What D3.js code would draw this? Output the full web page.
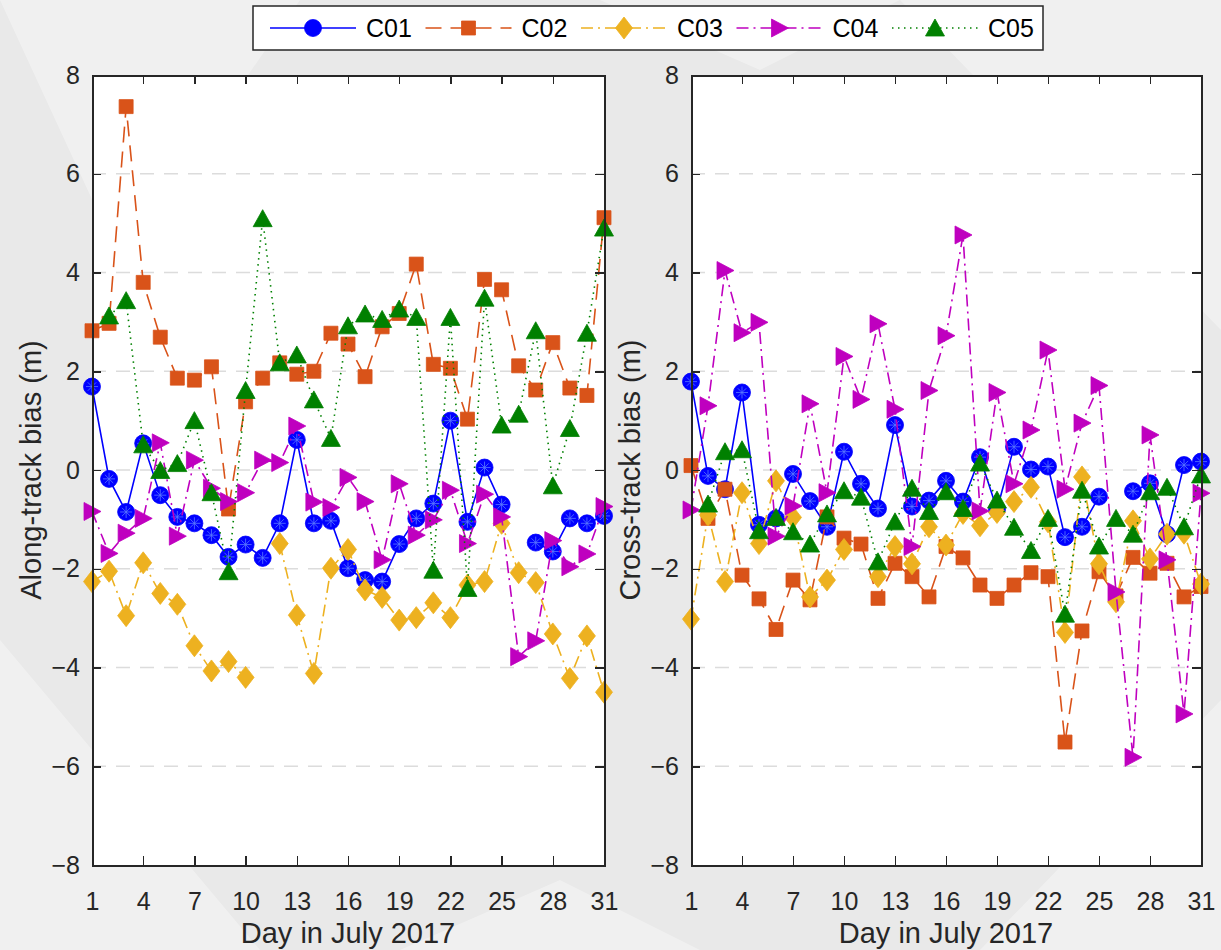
<!DOCTYPE html>
<html lang="en">
<head>
    <meta charset="UTF-8">
    <title>Along-track and cross-track bias</title>
    <script src="https://d3js.org/d3.v7.min.js"></script>
    <style>
        body { margin: 0; background: #ececec; }
        svg { display: block; font-family: "Liberation Sans", Arial, sans-serif; }
        .axis path, .axis line { stroke: #262626; shape-rendering: crispEdges; }
        .axis path { stroke-width: 2; }
        .axis line { stroke-width: 1.5; }
        .axis text { font-size: 25px; fill: #262626; font-family: "Liberation Sans", Arial, sans-serif; }
        .axis-label { font-size: 29px; fill: #262626; }
    </style>
</head>
<body>
<svg width="1221" height="950"></svg>
<script>
    // days and ticks
    const days = d3.range(1, 32);
    const xTicks = [1, 4, 7, 10, 13, 16, 19, 22, 25, 28, 31];
    const yTicks = [-8, -6, -4, -2, 0, 2, 4, 6, 8];
    const seriesNames = ["C01", "C02", "C03", "C04", "C05"];

    // Along-track bias (m), null = no value
    const c01Along = [1.69, -0.18, -0.85, 0.54, -0.51, -0.95, -1.08, -1.32, -1.76, -1.51, -1.78, -1.08, 0.61, -1.08, -1.03, -1.99, -2.23, -2.26, -1.50, -0.98, -0.68, 1.00, -1.05, 0.05, -0.70, null, -1.47, -1.65, -0.98, -1.08, -0.93];
    const c02Along = [2.82, 2.97, 7.36, 3.80, 2.69, 1.86, 1.82, 2.09, -0.79, 1.38, 1.86, 2.17, 1.94, 2.00, 2.77, 2.55, 1.89, 2.90, 3.17, 4.17, 2.14, 2.06, 1.03, 3.86, 3.65, 2.11, 1.62, 2.58, 1.66, 1.51, 5.11];
    const c03Along = [-2.26, -2.05, -2.95, -1.88, -2.50, -2.72, -3.56, -4.07, -3.88, -4.20, null, -1.49, -2.94, -4.12, -1.99, -1.61, -2.43, -2.58, -3.04, -2.99, -2.69, -2.99, -2.33, -2.26, -1.08, -2.08, -2.28, -3.32, -4.22, -3.36, -4.50];
    const c04Along = [-0.84, -1.69, -1.28, -0.98, 0.55, -1.34, 0.20, -0.37, -0.64, -0.46, 0.20, 0.15, 0.89, -0.65, -0.76, -0.15, -0.64, -1.82, -0.28, -1.32, -1.01, -0.41, -1.49, -0.49, -0.95, -3.78, -3.46, -1.43, -1.96, -1.70, -0.74];
    const c05Along = [null, 3.12, 3.43, 0.51, -0.01, 0.13, 1.00, -0.46, -2.06, 1.61, 5.09, 2.17, 2.33, 1.42, 0.64, 2.92, 3.16, 3.05, 3.26, 3.09, -2.03, 3.09, -2.40, 3.48, 0.91, 1.13, 2.82, -0.32, 0.84, 2.77, 4.90];

    // Cross-track bias (m)
    const c01Cross = [1.79, -0.12, -0.39, 1.57, -1.11, -0.98, -0.08, -0.63, -1.15, 0.37, -0.28, -0.78, 0.91, -0.74, -0.62, -0.22, -0.64, 0.26, -0.80, 0.47, 0.01, 0.07, -1.36, -1.15, -0.54, null, -0.43, -0.27, -1.30, 0.10, 0.17];
    const c02Cross = [0.09, -0.98, -0.39, -2.13, -2.61, -3.23, -2.23, -2.63, -0.95, -1.38, -1.50, -2.60, -1.89, -2.16, -2.57, -1.55, -1.78, -2.33, -2.60, -2.33, -2.08, -2.16, -5.51, -3.26, -2.06, -2.55, -1.77, -2.09, -1.89, -2.57, -2.36];
    const c03Cross = [-3.02, -0.91, -2.26, -0.46, -1.49, -0.22, -0.96, -2.57, -2.23, -1.61, null, -2.16, -1.55, -1.90, -1.15, -1.52, -0.88, -1.13, -0.86, -0.64, -0.35, -1.05, -3.29, -0.14, -1.90, -2.67, -1.03, -1.80, -1.30, -1.28, -2.31];
    const c04Cross = [-0.81, 1.30, 4.04, 2.78, 2.99, -1.34, -0.73, 1.34, -0.46, 2.30, 1.43, 2.96, 1.23, -1.55, 1.61, 2.72, 4.76, -0.83, 1.57, -0.28, 0.81, 2.43, -0.39, 0.95, 1.71, -2.47, -5.82, 0.71, -1.82, -4.94, -0.47];
    const c05Cross = [null, -0.69, 0.37, 0.41, -1.23, -0.96, -1.25, -1.50, -0.89, -0.42, -0.55, -1.86, -1.05, -0.37, -0.84, -0.44, -0.78, 0.14, -0.61, -1.16, -1.63, -0.98, -2.92, -0.41, -1.54, -0.98, -1.30, -0.44, -0.35, -1.15, -0.10];

    // line / marker styles per series
    const styles = [
        { color: "#0000ff", dash: null, marker: "circle" },
        { color: "#d95319", dash: "16,9", marker: "square" },
        { color: "#edb120", dash: "12,5,2,5", marker: "diamond" },
        { color: "#bf00bf", dash: "12,5,2,5", marker: "tright" },
        { color: "#008000", dash: "1.5,4.5", marker: "tup" }
    ];

    const markerPaths = {
        circle: d3.symbol().type(d3.symbolCircle).size(Math.PI * 8.5 * 8.5)(),
        square: "M-7,-7H7V7H-7Z",
        diamond: "M0,-11L8.5,0L0,11L-8.5,0Z",
        tright: "M-8,-9L9,0L-8,9Z",
        tup: "M0,-9L9.5,8L-9.5,8Z"
    };

    const svg = d3.select("svg");

    // background
    const bg = svg.append("g");
    bg.append("rect").attr("width", 1221).attr("height", 950).attr("fill", "#e9e9e9");
    const shapes = [
        "0,0 300,0 120,260", "1221,0 900,0 1221,330", "0,950 260,950 0,640",
        "1221,950 980,950 1221,700", "600,0 900,0 760,70", "400,950 700,950 560,880"
    ];
    bg.selectAll("polygon").data(shapes).enter().append("polygon")
        .attr("points", d => d).attr("fill", "#ffffff").attr("opacity", 0.35);

    const panels = [
        { left: 92, right: 604, label: "Along-track bias (m)", labelX: 41,
          series: [c01Along, c02Along, c03Along, c04Along, c05Along] },
        { left: 691, right: 1201, label: "Cross-track bias (m)", labelX: 640,
          series: [c01Cross, c02Cross, c03Cross, c04Cross, c05Cross] }
    ];
    const plotTop = 75, plotBottom = 865;

    const y = d3.scaleLinear().domain([-8, 8]).range([plotBottom, plotTop]);

    panels.forEach(p => {
        const x = d3.scaleLinear().domain([1, 31]).range([p.left, p.right]);
        const g = svg.append("g");

        g.append("rect")
            .attr("x", p.left).attr("y", plotTop)
            .attr("width", p.right - p.left).attr("height", plotBottom - plotTop)
            .attr("fill", "#ffffff");

        // grid lines
        g.selectAll(".grid").data(yTicks.filter(t => t > -8 && t < 8)).enter().append("line")
            .attr("x1", p.left).attr("x2", p.right)
            .attr("y1", d => y(d)).attr("y2", d => y(d))
            .attr("stroke", "#dcdcdc").attr("stroke-width", 1.5)
            .attr("stroke-dasharray", "14,10");

        // series
        p.series.forEach((vals, i) => {
            const st = styles[i];
            const pts = days.map((d, k) => ({ day: d, v: vals[k] }));
            const line = d3.line()
                .defined(d => d.v !== null)
                .x(d => x(d.day)).y(d => y(d.v));
            g.append("path").datum(pts)
                .attr("d", line)
                .attr("fill", "none")
                .attr("stroke", st.color)
                .attr("stroke-width", 1.6)
                .attr("stroke-dasharray", st.dash);
            g.selectAll(".m" + i).data(pts.filter(d => d.v !== null)).enter().append("path")
                .attr("transform", d => "translate(" + x(d.day) + "," + y(d.v) + ")")
                .attr("d", markerPaths[st.marker])
                .attr("fill", st.color)
                .attr("stroke", st.color).attr("stroke-width", 0.8);
            if (st.marker === "circle") {
                g.selectAll(".s" + i).data(pts.filter(d => d.v !== null)).enter().append("path")
                    .attr("transform", d => "translate(" + x(d.day) + "," + y(d.v) + ")")
                    .attr("d", "M-6,0H6M0,-6V6M-4.2,-4.2L4.2,4.2M-4.2,4.2L4.2,-4.2")
                    .attr("stroke", "#5a78ff").attr("stroke-width", 0.8).attr("fill", "none");
            }
        });

        // axes: labels on left and bottom, ticks on all sides pointing in
        g.append("g").attr("class", "axis")
            .attr("transform", "translate(" + p.left + ",0)")
            .call(d3.axisLeft(y).tickValues(yTicks).tickSize(-9).tickPadding(12).tickFormat(d3.format("d")));
        g.append("g").attr("class", "axis")
            .attr("transform", "translate(" + p.right + ",0)")
            .call(d3.axisRight(y).tickValues(yTicks).tickSize(-9).tickFormat(""));
        g.append("g").attr("class", "axis")
            .attr("transform", "translate(0," + plotBottom + ")")
            .call(d3.axisBottom(x).tickValues(xTicks).tickSize(-9).tickPadding(27).tickFormat(d3.format("d")));
        g.append("g").attr("class", "axis")
            .attr("transform", "translate(0," + plotTop + ")")
            .call(d3.axisTop(x).tickValues(xTicks).tickSize(-9).tickFormat(""));

        // axis titles
        g.append("text").attr("class", "axis-label")
            .attr("x", (p.left + p.right) / 2).attr("y", 943)
            .attr("text-anchor", "middle")
            .text("Day in July 2017");
        g.append("text").attr("class", "axis-label")
            .attr("transform", "translate(" + p.labelX + "," + ((plotTop + plotBottom) / 2) + ") rotate(-90)")
            .attr("text-anchor", "middle")
            .text(p.label);
    });

    // legend
    const legend = svg.append("g");
    legend.append("rect")
        .attr("x", 253).attr("y", 6).attr("width", 790).attr("height", 44)
        .attr("fill", "#ffffff").attr("stroke", "#262626").attr("stroke-width", 1.5);
    seriesNames.forEach((name, i) => {
        const st = styles[i];
        const x0 = 270 + i * 155.5;
        const item = legend.append("g").attr("transform", "translate(" + x0 + ",28)");
        item.append("line").attr("x1", 0).attr("x2", 86)
            .attr("stroke", st.color).attr("stroke-width", 1.6)
            .attr("stroke-dasharray", st.dash);
        item.append("path").attr("transform", "translate(43,0)")
            .attr("d", markerPaths[st.marker])
            .attr("fill", st.color).attr("stroke", st.color).attr("stroke-width", 0.8);
        item.append("text").attr("x", 96).attr("y", 9)
            .attr("font-size", 25).attr("fill", "#000")
            .text(name);
    });
</script>
</body>
</html>
